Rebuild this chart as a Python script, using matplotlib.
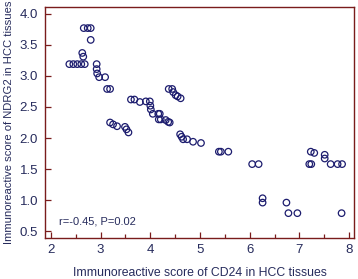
import matplotlib
matplotlib.use("Agg")
import matplotlib.pyplot as plt
from matplotlib.ticker import MultipleLocator

plt.rcParams['font.family'] = ['Liberation Sans', 'DejaVu Sans']

cd24 = [2.37, 2.45, 2.53, 2.61, 2.68,
        2.66, 2.74, 2.80, 2.80, 2.63, 2.65,
        2.92, 2.92, 2.93, 2.97, 3.09, 3.13, 3.19,
        3.19, 3.25, 3.33, 3.49, 3.52, 3.56,
        3.61, 3.68, 3.79, 3.91, 3.99, 4.00, 4.01, 4.05,
        4.16, 4.19, 4.17, 4.21, 4.31, 4.36, 4.39,
        4.37, 4.44, 4.46, 4.51, 4.55, 4.61,
        4.60, 4.63, 4.66, 4.74, 4.86, 5.02,
        5.38, 5.42, 5.57, 6.05, 6.18,
        6.26, 6.26, 6.74, 6.78, 6.96, 7.85,
        7.20, 7.24, 7.23, 7.30, 7.51, 7.51, 7.63, 7.77, 7.86]
ndrg2 = [3.19, 3.19, 3.19, 3.19, 3.19,
         3.77, 3.77, 3.77, 3.58, 3.37, 3.31,
         3.19, 3.11, 3.04, 2.98, 2.98, 2.79, 2.79,
         2.25, 2.22, 2.19, 2.18, 2.14, 2.09,
         2.62, 2.62, 2.58, 2.59, 2.59, 2.52, 2.46, 2.39,
         2.39, 2.39, 2.30, 2.30, 2.29, 2.26, 2.25,
         2.79, 2.79, 2.74, 2.69, 2.67, 2.64,
         2.06, 2.02, 1.98, 1.98, 1.94, 1.92,
         1.78, 1.78, 1.78, 1.58, 1.58,
         1.03, 0.96, 0.96, 0.79, 0.79, 0.79,
         1.58, 1.58, 1.78, 1.76, 1.73, 1.67, 1.58, 1.58, 1.58]

xticks = [2, 3, 4, 5, 6, 7, 8]
yticks = [0.5, 1.0, 1.5, 2.0, 2.5, 3.0, 3.5, 4.0]
annot = "r=-0.45, P=0.02"

txt = '#262b5c'
frame = '#7a1c1c'

fig = plt.figure(figsize=(3.58, 2.79), dpi=100)
ax = fig.add_axes([45/358, 1-238/279, (354-45)/358, (238-7)/279])
ax.scatter(cd24, ndrg2, s=22, facecolors='none', edgecolors='#1c1c6e', linewidths=0.9, zorder=3)

ax.set_xlim(1.88, 8.1)
ax.set_ylim(0.39, 4.11)
ax.set_xticks(xticks)
ax.set_xticklabels([str(t) for t in xticks])
ax.set_yticks(yticks)
ax.set_yticklabels([f"{t:.1f}" for t in yticks])
ax.xaxis.set_minor_locator(MultipleLocator(0.5))

for s in ax.spines.values():
    s.set_color(frame)
    s.set_linewidth(1.0)

ax.tick_params(axis='both', which='major', direction='in', length=4, width=0.9,
               color=frame, labelcolor=txt, labelsize=9.5, pad=4)
ax.tick_params(axis='x', which='minor', direction='in', length=3, width=0.9, color=frame)
ax.tick_params(axis='y', which='major', pad=5)

ax.set_xlabel("Immunoreactive score of CD24 in HCC tissues", color=txt, fontsize=8.8, labelpad=8)
ax.set_ylabel("Immunoreactive score of NDRG2 in HCC tissues", color=txt, fontsize=8.1, labelpad=4)
ax.text(2.16, 0.66, annot, color=txt, fontsize=8, va='center', ha='left')

fig.savefig("out.png", dpi=100)
